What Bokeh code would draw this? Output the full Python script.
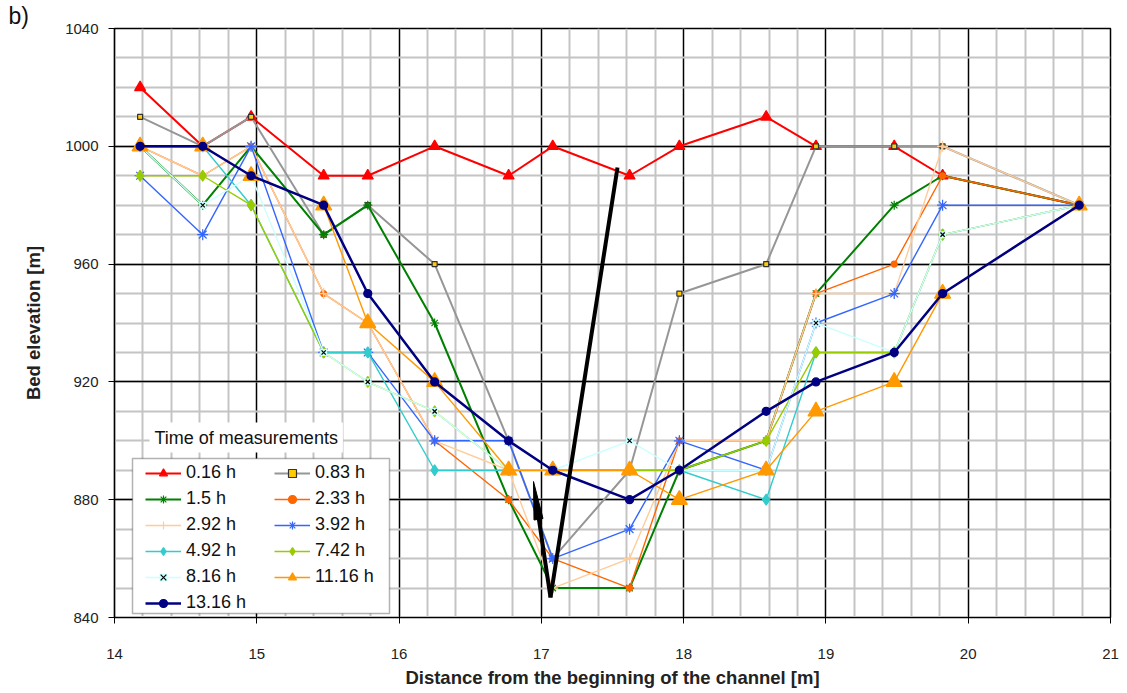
from bokeh.plotting import figure
from bokeh.models import (SingleIntervalTicker, Legend, LegendItem, Label,
                          ColumnDataSource, BoxAnnotation, Title)
from bokeh.embed import file_html
from bokeh.resources import INLINE

# Cross-section stations along the channel [m]
distance = [14.18, 14.62, 14.96, 15.47, 15.78, 16.25, 16.77, 17.08,
            17.62, 17.97, 18.58, 18.93, 19.48, 19.82, 20.78]

# Bed elevation at each station for every measurement time [m]
t_0_16 = [1020, 1000, 1010, 990, 990, 1000, 990, 1000, 990, 1000, 1010, 1000, 1000, 990, 980]
t_0_83 = [1010, 1000, 1010, 970, 980, 960, 900, 860, 890, 950, 960, 1000, 1000, 1000, 980]
t_1_5 = [1000, 980, 1000, 970, 980, 940, 880, 850, 850, 890, 900, 950, 980, 990, 980]
t_2_33 = [1000, 990, 1000, 950, 940, 900, 880, 860, 850, 900, 900, 950, 960, 990, 980]
t_2_92 = [1000, 990, 1000, 950, 940, 900, 890, 850, 860, 900, 900, 950, 950, 1000, 980]
t_3_92 = [990, 970, 1000, 930, 930, 900, 900, 860, 870, 900, 890, 940, 950, 980, 980]
t_4_92 = [1000, 1000, 980, 930, 930, 890, 890, 890, 890, 890, 880, 930, 930, 970, 980]
t_7_42 = [990, 990, 980, 930, 920, 910, 890, 890, 890, 890, 900, 930, 930, 970, 980]
t_8_16 = [1000, 980, 990, 930, 920, 910, 890, 890, 900, 890, 890, 940, 930, 970, 980]
t_11_16 = [1000, 1000, 990, 980, 940, 920, 890, 890, 890, 880, 890, 910, 920, 950, 980]
t_13_16 = [1000, 1000, 990, 980, 950, 920, 900, 890, 880, 890, 910, 920, 930, 950, 980]

series_labels = ["0.16 h", "0.83 h", "1.5 h", "2.33 h", "2.92 h", "3.92 h",
                 "4.92 h", "7.42 h", "8.16 h", "11.16 h", "13.16 h"]
series_values = [t_0_16, t_0_83, t_1_5, t_2_33, t_2_92, t_3_92,
                 t_4_92, t_7_42, t_8_16, t_11_16, t_13_16]

# line colour, line width, markers as (type, size, fill, outline)
styles = [
    ("#FF0000", 2.0, [("triangle", 11, "#FF0000", "#FF0000")]),
    ("#969696", 2.0, [("square", 5, "#FFCC00", "#333333")]),
    ("#008000", 2.0, [("asterisk", 9, "#008000", "#008000")]),
    ("#FF6600", 1.4, [("circle", 6, "#FF6600", "#FF6600")]),
    ("#FFCC99", 1.4, [("cross", 11, "#FFCC99", "#FFCC99")]),
    ("#3366FF", 1.4, [("asterisk", 11, "#3366FF", "#3366FF")]),
    ("#33CCCC", 1.4, [("diamond", 11, "#33CCCC", "#33CCCC")]),
    ("#99CC00", 1.4, [("diamond", 11, "#99CC00", "#99CC00")]),
    ("#CCFFFF", 1.4, [("square", 7, "#CCFFFF", None), ("x", 6, None, "#000000")]),
    ("#FF9900", 1.4, [("triangle", 16, "#FF9900", "#FF9900")]),
    ("#000080", 2.5, [("circle", 8, "#000080", "#000080")]),
]

FONT = "Liberation Sans"

p = figure(width=1127, height=693, x_range=(14, 21), y_range=(840, 1040),
           output_backend="svg", toolbar_location=None,
           min_border_left=114, min_border_right=17,
           min_border_top=28, min_border_bottom=76)

p.background_fill_color = "white"
p.border_fill_color = "white"
p.outline_line_color = "black"
p.outline_line_width = 1.5

p.xaxis.ticker = SingleIntervalTicker(interval=1, num_minor_ticks=5)
p.yaxis.ticker = SingleIntervalTicker(interval=40, num_minor_ticks=4)

for g in (p.xgrid[0], p.ygrid[0]):
    g.grid_line_color = "black"
    g.grid_line_width = 1.3
    g.minor_grid_line_color = "#C4C4C4"
    g.minor_grid_line_width = 2

for ax in (p.xaxis[0], p.yaxis[0]):
    ax.axis_line_color = "black"
    ax.axis_line_width = 1.2
    ax.major_tick_line_color = "black"
    ax.major_tick_out = 6
    ax.major_tick_in = 0
    ax.minor_tick_line_color = None
    ax.major_label_text_font = FONT
    ax.major_label_text_font_size = "15px"
    ax.major_label_text_color = "#222222"
    ax.axis_label_text_font = FONT
    ax.axis_label_text_font_style = "bold"
    ax.axis_label_text_font_size = "18.5px"
    ax.axis_label_text_color = "#222222"

p.xaxis.axis_label = "Distance from the beginning of the channel [m]"
p.yaxis.axis_label = "Bed elevation [m]"
p.xaxis.major_label_standoff = 25
p.xaxis.axis_label_standoff = 5
p.yaxis.major_label_standoff = 10
p.yaxis.axis_label_standoff = 18

items = []
for label, vals, st in zip(series_labels, series_values, styles):
    lc, lw, markers = st
    src = ColumnDataSource(dict(x=distance, y=vals))
    rends = [p.line("x", "y", source=src, line_color=lc, line_width=lw)]
    for mk, ms, fc, oc in markers:
        rends.append(p.scatter("x", "y", source=src, marker=mk, size=ms,
                               fill_color=fc, line_color=oc, line_width=1.2))
    items.append(LegendItem(label=label, renderers=rends))

# frame pixel geometry, used to place the annotations
FL, FR, FT, FB = 114, 1110, 28, 617


def px_x(px):
    return 14 + (px - FL) * 7 / (FR - FL)


def px_y(py):
    return 1040 - (py - FT) * 200 / (FB - FT)


# legend frame drawn separately so the entries can sit with wider side margins
p.add_layout(BoxAnnotation(left=px_x(132), right=px_x(389),
                           top=px_y(458), bottom=px_y(613),
                           fill_color="white", fill_alpha=1.0,
                           line_color="black", line_width=1.5))

legend = Legend(items=items, location=(31, 4), orientation="horizontal", ncols=2,
                label_text_font=FONT, label_text_font_size="18px",
                label_text_color="#111111",
                glyph_width=36, glyph_height=20, label_width=83, label_height=20,
                label_standoff=5, spacing=5, padding=14, margin=0,
                border_line_color=None, background_fill_alpha=0.0)
p.add_layout(legend)

p.add_layout(Label(x=px_x(149), y=px_y(437), text="Time of measurements",
                   text_font=FONT, text_font_size="18px", text_color="#111111",
                   text_baseline="middle", text_align="left",
                   background_fill_color="white", padding=5))

# erosion arrow: a V whose left arm points up
vx, vy = px_x(550), px_y(597)
p.line([vx, px_x(617)], [vy, px_y(167)], line_color="black", line_width=4)
p.line([vx, px_x(538)], [vy, px_y(516)], line_color="black", line_width=4)
p.patch([px_x(533), px_x(542.5), px_x(533.5)],
        [px_y(481), px_y(518), px_y(519.5)],
        fill_color="black", line_color="black", line_width=1)

p.add_layout(Title(text="b)", align="left", offset=-106, standoff=0,
                   text_font=FONT, text_font_size="23px", text_font_style="normal",
                   text_color="#111111"), "above")

open("out.html", "w").write(file_html(p, INLINE))
